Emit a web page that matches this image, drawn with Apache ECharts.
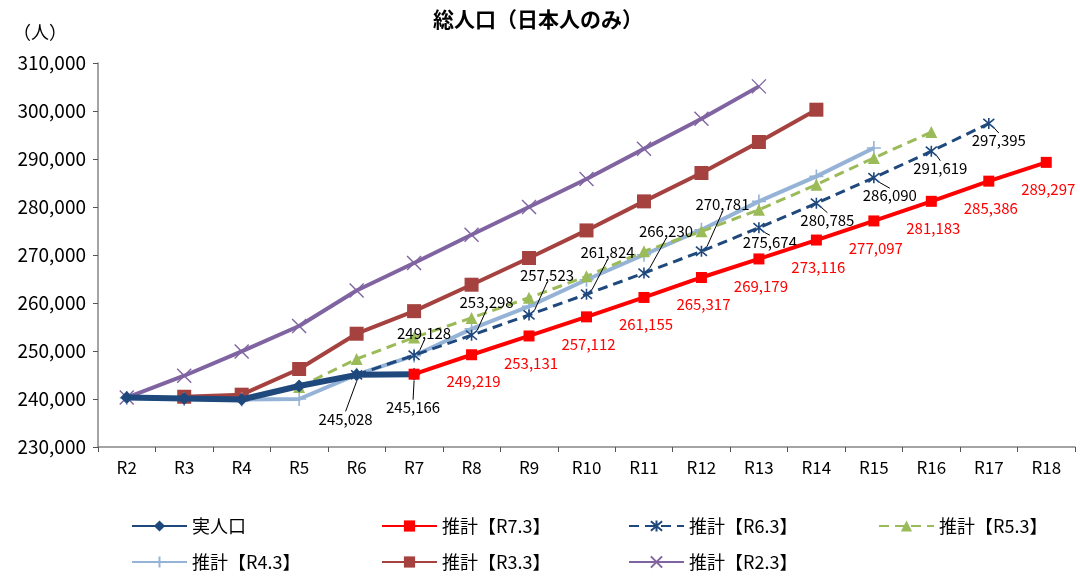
<!DOCTYPE html>
<html>
<head>
<meta charset="utf-8">
<script src="https://cdn.jsdelivr.net/npm/echarts@6/dist/echarts.min.js"></script>
<style>
html,body{margin:0;padding:0;background:#fff;}
#chart{width:1080px;height:577px;}
</style>
</head>
<body>
<div id="chart"></div>
<script>
// ---- data ----
const categories = ['R2','R3','R4','R5','R6','R7','R8','R9','R10','R11','R12','R13','R14','R15','R16','R17','R18'];
const yTicks = [230000, 310000, 10000]; // min, max, interval

const actualStart = 0;
const actualValues = [240300, 240100, 239900, 242700, 245028, 245166];

const r73Start = 5; // R7
const r73Values = [245166, 249219, 253131, 257112, 261155, 265317, 269179, 273116, 277097, 281183, 285386, 289297];

const r63Start = 4; // R6
const r63Values = [245028, 249128, 253298, 257523, 261824, 266230, 270781, 275674, 280785, 286090, 291619, 297395];

const r53Start = 3; // R5
const r53Values = [242500, 248330, 252830, 256900, 261100, 265550, 270760, 274930, 279440, 284650, 290210, 295600];

const r43Start = 0; // R2
const r43Values = [240200, 240000, 239900, 240000, 245060, 249020, 254600, 259300, 264850, 270060, 275270, 281170, 286380, 292290];

const r33Start = 1; // R3
const r33Values = [240470, 240900, 246250, 253600, 258300, 263810, 269370, 275120, 281170, 287080, 293540, 300270];

const r23Start = 0; // R2
const r23Values = [240300, 244850, 249920, 255200, 262600, 268330, 274230, 280000, 285830, 292150, 298400, 305130];

const names = ['実人口','推計【R7.3】','推計【R6.3】','推計【R5.3】','推計【R4.3】','推計【R3.3】','推計【R2.3】'];

// ---- layout/style config (not data) ----
const FONT = '"Noto Sans CJK JP","Noto Sans",sans-serif';
// label offsets (dx, dy from point centre) and whether a leader line is drawn
const actualLabelCfg = {4: [-11, 44, true], 5: [-1, 33, true]};
const r63LabelCfg = {5:[10,-22,true],6:[15,-33,true],7:[18,-40,true],8:[21,-42,true],9:[22,-42,true],10:[21,-47,true],
                     11:[11,15,false],12:[11,17,false],13:[16,18,false],14:[9,17,false],15:[10,17,false]};
const redLabelOffset = [2, 27];

function pad(start, vals) {
  const arr = new Array(categories.length).fill(null);
  vals.forEach((v, i) => { arr[start + i] = v; });
  return arr;
}
function fmt(v) { return String(v).replace(/\B(?=(\d{3})+(?!\d))/g, ','); }

function buildData(start, vals, showFn) {
  return pad(start, vals).map((v, i) => {
    if (v === null) return null;
    return {value: v, label: {show: showFn(i)}};
  });
}

function makeLayout(cfgFn) {
  return function (p) {
    const r = p.rect;
    const cx = r.x + r.width / 2, cy = r.y + r.height / 2;
    const c = cfgFn(p.dataIndex);
    if (!c) return {};
    const lx = cx + c[0], ly = cy + c[1];
    let pts;
    if (c[2]) {
      const sy = c[1] < 0 ? ly + 9 : ly - 9;
      const sx = lx + 2;
      pts = [[sx, sy], [(sx + cx) / 2, (sy + cy) / 2], [cx, cy]];
    } else {
      pts = [[cx, cy], [cx, cy], [cx, cy]];
    }
    return {x: lx, y: ly, align: 'center', verticalAlign: 'middle', labelLinePoints: pts};
  };
}

const labelBase = {fontFamily: FONT, fontSize: 15, position: 'top', formatter: p => fmt(p.value)};

const cAct = '#1F497D';
const cRed = '#FF0000';
const cR6 = '#1F497D';
const cR5 = '#9BBB59';
const cR4 = '#95B3D7';
const cR3 = '#A5423F';
const cR2 = '#8064A2';

const series = [
  {
    name: names[0], type: 'line', z: 7,
    data: buildData(actualStart, actualValues, i => actualLabelCfg[i] !== undefined),
    symbol: 'diamond', symbolSize: 13,
    itemStyle: {color: cAct},
    lineStyle: {color: cAct, width: 6},
    label: Object.assign({}, labelBase, {color: '#000'}),
    labelLine: {show: true, lineStyle: {color: '#000', width: 1}},
    labelLayout: makeLayout(i => actualLabelCfg[i])
  },
  {
    name: names[1], type: 'line', z: 9,
    data: buildData(r73Start, r73Values, i => i > r73Start),
    symbol: 'rect', symbolSize: 11,
    itemStyle: {color: cRed},
    lineStyle: {color: cRed, width: 4},
    label: Object.assign({}, labelBase, {color: cRed}),
    labelLayout: makeLayout(i => [redLabelOffset[0], redLabelOffset[1], false])
  },
  {
    name: names[2], type: 'line', z: 8,
    data: buildData(r63Start, r63Values, i => r63LabelCfg[i] !== undefined),
    symbol: 'path://M0,0L10,10M10,0L0,10M5,-1L5,11', symbolSize: 11,
    itemStyle: {color: 'rgba(0,0,0,0)', borderColor: cR6, borderWidth: 1.6},
    lineStyle: {color: cR6, width: 3, type: [10, 6]},
    label: Object.assign({}, labelBase, {color: '#000'}),
    labelLine: {show: true, lineStyle: {color: '#000', width: 1}},
    labelLayout: makeLayout(i => r63LabelCfg[i])
  },
  {
    name: names[3], type: 'line', z: 6,
    data: pad(r53Start, r53Values),
    symbol: 'triangle', symbolSize: 12,
    itemStyle: {color: cR5},
    lineStyle: {color: cR5, width: 3, type: [10, 6]}
  },
  {
    name: names[4], type: 'line', z: 5,
    data: pad(r43Start, r43Values),
    symbol: 'path://M5,0L5,10M0,5L10,5', symbolSize: 14,
    itemStyle: {color: 'rgba(0,0,0,0)', borderColor: cR4, borderWidth: 1.6},
    lineStyle: {color: cR4, width: 4}
  },
  {
    name: names[5], type: 'line', z: 4,
    data: pad(r33Start, r33Values),
    symbol: 'rect', symbolSize: 14,
    itemStyle: {color: cR3},
    lineStyle: {color: cR3, width: 4}
  },
  {
    name: names[6], type: 'line', z: 3,
    data: pad(r23Start, r23Values),
    symbol: 'path://M0,0L10,10M10,0L0,10', symbolSize: 14,
    itemStyle: {color: 'rgba(0,0,0,0)', borderColor: cR2, borderWidth: 1.4},
    lineStyle: {color: cR2, width: 4}
  }
];

const legendPos = [[131,516],[381,516],[628,516],[878,516],[131,552],[381,552],[628,552]];
const legends = names.map((n, i) => ({
  data: [n], left: legendPos[i][0], top: legendPos[i][1], orient: 'horizontal',
  itemWidth: 55, itemHeight: 14, padding: 0, selectedMode: false,
  textStyle: {fontFamily: FONT, fontSize: 18, color: '#000', lineHeight: 20}
}));

const chart = echarts.init(document.getElementById('chart'), null, {renderer: 'canvas'});
chart.setOption({
  animation: false,
  backgroundColor: '#fff',
  title: [
    {text: '総人口（日本人のみ）', left: 533, top: 4, textAlign: 'center',
     textStyle: {fontFamily: FONT, fontSize: 21, fontWeight: 'bold', color: '#000'}},
    {text: '（人）', left: 8, top: 18,
     textStyle: {fontFamily: FONT, fontSize: 18, fontWeight: 'normal', color: '#000'}}
  ],
  legend: legends,
  grid: {left: 98, right: 5, top: 63, bottom: 130, containLabel: false},
  xAxis: {
    type: 'category', data: categories, boundaryGap: true,
    axisLine: {lineStyle: {color: '#868686', width: 1.5}},
    axisTick: {show: true, length: 5, lineStyle: {color: '#555'}},
    axisLabel: {fontFamily: FONT, fontSize: 17, color: '#000', margin: 12}
  },
  yAxis: {
    type: 'value', min: yTicks[0], max: yTicks[1], interval: yTicks[2],
    axisLine: {show: true, lineStyle: {color: '#868686', width: 1.5}},
    axisTick: {show: true, length: 5, lineStyle: {color: '#555'}},
    splitLine: {show: false},
    axisLabel: {fontFamily: FONT, fontSize: 19, color: '#000', margin: 12, formatter: v => fmt(v)}
  },
  series: series
});
</script>
</body>
</html>
